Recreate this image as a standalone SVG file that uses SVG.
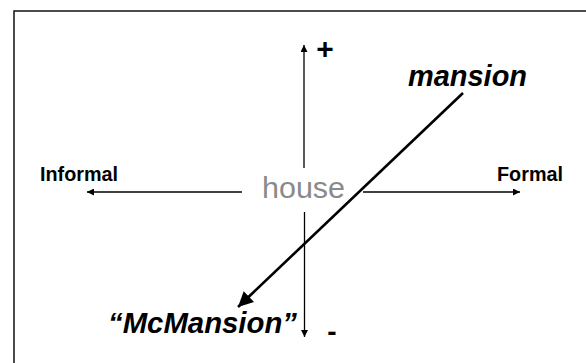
<svg xmlns="http://www.w3.org/2000/svg" width="586" height="363" viewBox="0 0 586 363">
  <style>
    .lbl { font-family: "Liberation Sans", Arial, sans-serif; font-weight: bold; fill: #000; }
    .big { font-size: 29px; font-style: italic; }
    .axis { font-size: 20px; }
    .house { font-family: "Liberation Sans", Arial, sans-serif; font-size: 29px; fill: #8a8a8a; }
    .thin { stroke: #000; stroke-width: 1.3; fill: none; }
    .thick { stroke: #000; stroke-width: 2.6; fill: none; }
  </style>
  <defs>
    <marker id="small" viewBox="0 0 10 10" refX="10" refY="5" markerWidth="8" markerHeight="7" markerUnits="userSpaceOnUse" orient="auto">
      <path d="M0,0 L10,5 L0,10 z" fill="#000"/>
    </marker>
    <marker id="large" viewBox="0 0 10 10" refX="10" refY="5" markerWidth="25" markerHeight="15" markerUnits="userSpaceOnUse" orient="auto">
      <path d="M0,0 L10,5 L0,10 z" fill="#000"/>
    </marker>
  </defs>
  <rect x="14" y="11" width="600" height="400" fill="none" stroke="#111" stroke-width="1.5"/>
  <g id="connectors">
    <line class="thin" x1="242" y1="192" x2="87" y2="192" marker-end="url(#small)"/>
    <line class="thin" x1="363" y1="192" x2="520" y2="192" marker-end="url(#small)"/>
    <line class="thin" x1="304" y1="168" x2="304" y2="45" marker-end="url(#small)"/>
    <line class="thin" x1="304.5" y1="212" x2="304.5" y2="337" marker-end="url(#small)"/>
    <line class="thick" x1="463" y1="93" x2="238" y2="307" marker-end="url(#large)"/>
  </g>
  <g id="node-house">
    <text class="house" x="262" y="198" textLength="83" lengthAdjust="spacingAndGlyphs">house</text>
  </g>
  <g id="node-informal">
    <text class="lbl axis" x="40" y="180.5" textLength="78" lengthAdjust="spacingAndGlyphs">Informal</text>
  </g>
  <g id="node-formal">
    <text class="lbl axis" x="497" y="180.5" textLength="66" lengthAdjust="spacingAndGlyphs">Formal</text>
  </g>
  <g id="node-plus">
    <text class="lbl" x="325" y="59" font-size="30" text-anchor="middle">+</text>
  </g>
  <g id="node-minus">
    <text class="lbl" x="332" y="341" font-size="28" text-anchor="middle">-</text>
  </g>
  <g id="node-mansion">
    <text class="lbl big" x="408" y="86" textLength="119" lengthAdjust="spacingAndGlyphs">mansion</text>
  </g>
  <g id="node-mcmansion">
    <text class="lbl big" x="108" y="333" textLength="189" lengthAdjust="spacingAndGlyphs">“McMansion”</text>
  </g>
</svg>
